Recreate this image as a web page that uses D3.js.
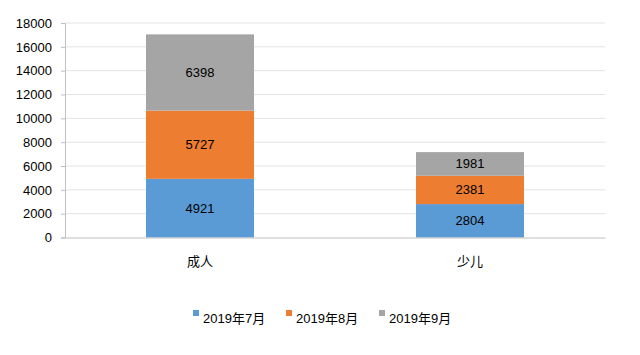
<!DOCTYPE html>
<html>
<head>
<meta charset="utf-8">
<script src="https://cdn.jsdelivr.net/npm/d3@7"></script>
<style>
    body { margin: 0; background: #fff; }
    text { font-family: "Liberation Sans", Arial, "Noto Sans CJK SC", sans-serif; fill: #000; }
</style>
</head>
<body>
<svg id="chart"></svg>
<script>
const categories = ["成人", "少儿"];
const seriesNames = ["2019年7月", "2019年8月", "2019年9月"];
const july = [4921, 2804];
const august = [5727, 2381];
const september = [6398, 1981];
const yTicks = [0, 2000, 4000, 6000, 8000, 10000, 12000, 14000, 16000, 18000];
const colors = ["#5b9bd5", "#ed7d31", "#a5a5a5"];

const width = 640, height = 355;
const margin = { top: 23, right: 35, bottom: 117.5, left: 65 };
const innerW = width - margin.left - margin.right;
const innerH = height - margin.top - margin.bottom;

const svg = d3.select("#chart").attr("width", width).attr("height", height);
const g = svg.append("g").attr("transform", `translate(${margin.left},${margin.top})`);

const rows = categories.map((c, i) => ({ cat: c, s0: july[i], s1: august[i], s2: september[i] }));
const stacked = d3.stack().keys(["s0", "s1", "s2"])(rows);

const xScale = d3.scaleBand().domain(categories).range([0, innerW])
    .paddingInner(0.6).paddingOuter(0.3);
const yScale = d3.scaleLinear().domain([0, 18000]).range([innerH, 0]);

// gridlines
g.selectAll("line.grid")
    .data(yTicks.slice(1))
    .join("line")
    .attr("class", "grid")
    .attr("x1", 0).attr("x2", innerW)
    .attr("y1", d => yScale(d)).attr("y2", d => yScale(d))
    .attr("stroke", "#e3e3e3").attr("stroke-width", 1);

// bars
const layers = g.selectAll("g.layer")
    .data(stacked)
    .join("g")
    .attr("class", "layer")
    .attr("fill", (d, i) => colors[i]);

layers.selectAll("rect")
    .data(d => d)
    .join("rect")
    .attr("x", d => xScale(d.data.cat))
    .attr("y", d => yScale(d[1]))
    .attr("width", xScale.bandwidth())
    .attr("height", d => yScale(d[0]) - yScale(d[1]));

layers.selectAll("text")
    .data(d => d.map(v => ({ v, key: d.key })))
    .join("text")
    .attr("x", d => xScale(d.v.data.cat) + xScale.bandwidth() / 2)
    .attr("y", d => (yScale(d.v[0]) + yScale(d.v[1])) / 2)
    .attr("dy", "0.35em")
    .attr("text-anchor", "middle")
    .attr("font-size", "13px")
    .text(d => d.v.data[d.key]);

// y axis
const yAxis = g.append("g")
    .call(d3.axisLeft(yScale).tickValues(yTicks).tickSize(4).tickPadding(9).tickFormat(d3.format("d")));
yAxis.select(".domain").attr("stroke", "#bfbfbf");
yAxis.selectAll(".tick line").attr("stroke", "#bfbfbf");
yAxis.selectAll(".tick text").attr("font-size", "13px").attr("font-family", null).attr("fill", "#000");

// x axis
const xAxis = g.append("g")
    .attr("transform", `translate(0,${innerH})`)
    .call(d3.axisBottom(xScale).tickSize(0).tickPadding(19));
xAxis.select(".domain").attr("stroke", "#bfbfbf");
xAxis.selectAll(".tick text").attr("font-size", "13px").attr("font-family", null).attr("fill", "#000");

// legend
const legendX = [193, 286, 379];
const legend = svg.append("g").attr("transform", "translate(0,310)");
const items = legend.selectAll("g")
    .data(seriesNames)
    .join("g")
    .attr("transform", (d, i) => `translate(${legendX[i]},0)`);
items.append("rect")
    .attr("width", 6).attr("height", 6)
    .attr("fill", (d, i) => colors[i]);
items.append("text")
    .attr("x", 10).attr("y", 13)
    .attr("font-size", "13px")
    .text(d => d);
</script>
</body>
</html>
